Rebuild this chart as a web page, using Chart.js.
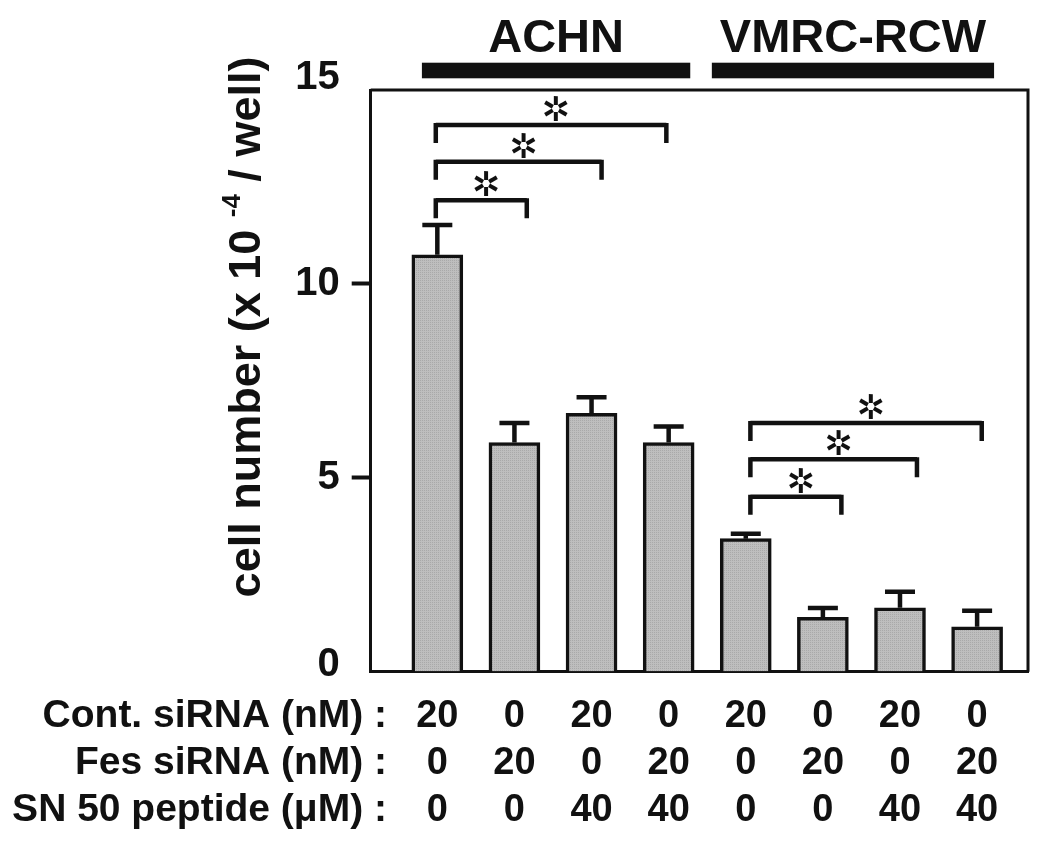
<!DOCTYPE html>
<html><head><meta charset="utf-8">
<script src="https://cdn.jsdelivr.net/npm/chart.js@4.4.0/dist/chart.umd.min.js"></script>
<style>html,body{margin:0;padding:0;background:#fff;overflow:hidden}#wrap{width:1050px;height:859px}</style>
</head><body><div id="wrap"><canvas id="c" width="1050" height="859"></canvas></div>
<script>
// ---- data ----
const categories = ['ACHN 1','ACHN 2','ACHN 3','ACHN 4','VMRC-RCW 1','VMRC-RCW 2','VMRC-RCW 3','VMRC-RCW 4'];
const contSiRNA = ['20','0','20','0','20','0','20','0'];
const fesSiRNA  = ['0','20','0','20','0','20','0','20'];
const sn50      = ['0','0','40','40','0','0','40','40'];
const rowHeaders = ['Cont. siRNA (nM) :', 'Fes siRNA (nM) :', 'SN 50 peptide (\u03BCM) :'];
const cellNumber = [10.75, 5.91, 6.66, 5.91, 3.43, 1.40, 1.65, 1.16];
const errorUpper = [0.77, 0.50, 0.42, 0.41, 0.13, 0.24, 0.41, 0.41];
const yTicks = [0, 5, 10, 15];
const groupNames = ['ACHN', 'VMRC-RCW'];
const groupStart = [-0.20, 3.56];
const groupEnd   = [3.28, 7.22];
const bracketFrom  = [-0.02, -0.02, -0.02, 4.06, 4.06, 4.06];
const bracketTo    = [2.97, 2.13, 1.16, 7.06, 6.22, 5.24];
const bracketLevel = [14.10, 13.15, 12.16, 6.41, 5.48, 4.51];
const bracketMark  = ['\u2732','\u2732','\u2732','\u2732','\u2732','\u2732'];
const yTitleParts = ['cell number (x 10 ', '-4', ' / well)'];

// ---- styles ----
const INK = '#111';
const FONT = '"Liberation Sans", Arial, Helvetica, sans-serif';

function makePattern(ctx){
  const p = document.createElement('canvas'); p.width = 2; p.height = 2;
  const g = p.getContext('2d');
  g.fillStyle = '#bebebe'; g.fillRect(0,0,2,2);
  g.fillStyle = '#a9a9a9'; g.fillRect(0,0,1,1);
  return ctx.createPattern(p, 'repeat');
}

const canvas = document.getElementById('c');
const ctx0 = canvas.getContext('2d');
const pattern = makePattern(ctx0);

const decorPlugin = {
  id: 'decor',
  afterDatasetsDraw(chart){
    const ctx = chart.ctx, xs = chart.scales.x, ys = chart.scales.y, ca = chart.chartArea;
    const meta = chart.getDatasetMeta(0);
    ctx.save();
    // box top & right
    ctx.strokeStyle = INK; ctx.lineWidth = 3;
    ctx.beginPath();
    ctx.moveTo(ca.left, ca.top); ctx.lineTo(ca.right, ca.top); ctx.lineTo(ca.right, ca.bottom);
    ctx.stroke();
    // error bars (upper only)
    ctx.lineWidth = 4.5; ctx.lineCap = 'butt';
    meta.data.forEach((bar, i) => {
      const yTop = ys.getPixelForValue(cellNumber[i]);
      const yErr = ys.getPixelForValue(cellNumber[i] + errorUpper[i]);
      ctx.beginPath();
      ctx.moveTo(bar.x, yTop); ctx.lineTo(bar.x, yErr);
      ctx.moveTo(bar.x - 15, yErr); ctx.lineTo(bar.x + 15, yErr);
      ctx.stroke();
    });
    // significance brackets
    ctx.lineWidth = 4.5; ctx.lineJoin = 'miter';
    for (let k = 0; k < bracketLevel.length; k++){
      const x1 = xs.getPixelForValue(bracketFrom[k]);
      const x2 = xs.getPixelForValue(bracketTo[k]);
      const y = ys.getPixelForValue(bracketLevel[k]);
      ctx.beginPath();
      ctx.moveTo(x1, y + 18); ctx.lineTo(x1, y - 2);
      ctx.moveTo(x1, y); ctx.lineTo(x2, y);
      ctx.moveTo(x2, y - 2); ctx.lineTo(x2, y + 18);
      ctx.stroke();
      ctx.fillStyle = INK;
      ctx.font = 'bold 34px "DejaVu Sans"';
      ctx.textAlign = 'center'; ctx.textBaseline = 'middle';
      ctx.fillText(bracketMark[k], (x1 + x2) / 2 + 5, y - 13);
    }
    // group bars and labels
    for (let g = 0; g < groupNames.length; g++){
      const x1 = xs.getPixelForValue(groupStart[g]);
      const x2 = xs.getPixelForValue(groupEnd[g]);
      ctx.fillStyle = INK;
      ctx.fillRect(x1, ca.top - 27.3, x2 - x1, 15.6);
      ctx.font = 'bold 47px ' + FONT;
      ctx.textAlign = 'center'; ctx.textBaseline = 'alphabetic';
      ctx.fillText(groupNames[g], (x1 + x2) / 2, ca.top - 38);
    }
    // row headers for the condition table
    const xt = xs.options.ticks;
    const lh = 38 * 1.237;
    ctx.font = 'bold 39px ' + FONT;
    ctx.textAlign = 'right'; ctx.textBaseline = 'middle';
    rowHeaders.forEach((h, r) => {
      ctx.fillText(h, 387, xs.top + xt.padding + lh * (r + 0.5));
    });
    // y axis title with superscript
    ctx.translate(244, 327);
    ctx.rotate(-Math.PI / 2);
    const big = 'bold 45px ' + FONT, small = 'bold 26px ' + FONT;
    ctx.font = big; const w0 = ctx.measureText(yTitleParts[0]).width;
    const w2 = ctx.measureText(yTitleParts[2]).width;
    ctx.font = small; const w1 = ctx.measureText(yTitleParts[1]).width;
    let x = -(w0 + w1 + w2) / 2;
    ctx.textAlign = 'left'; ctx.textBaseline = 'alphabetic';
    ctx.font = big; ctx.fillText(yTitleParts[0], x, 16); x += w0;
    ctx.font = small; ctx.fillText(yTitleParts[1], x, -4); x += w1;
    ctx.font = big; ctx.fillText(yTitleParts[2], x, 16);
    ctx.restore();
  }
};

new Chart(canvas, {
  type: 'bar',
  data: {
    labels: categories,
    datasets: [{
      data: cellNumber.map((v, i) => ({ x: i, y: v })),
      backgroundColor: pattern,
      borderColor: INK,
      borderWidth: 3.5,
      borderSkipped: 'start',
      barThickness: 51
    }]
  },
  options: {
    responsive: false,
    animation: false,
    devicePixelRatio: 1,
    layout: { padding: { left: 0, right: 22, top: 90, bottom: 0 } },
    plugins: { legend: { display: false }, tooltip: { enabled: false } },
    scales: {
      x: {
        type: 'linear', min: -0.864, max: 7.66, offset: false,
        afterBuildTicks: s => { s.ticks = categories.map((c, i) => ({ value: i })); },
        afterFit: s => { s.height = 859 - 671.7; },
        grid: { display: false, drawTicks: false },
        border: { display: true, color: INK, width: 3 },
        ticks: {
          autoSkip: false, maxRotation: 0, minRotation: 0, padding: 21, color: INK,
          font: { family: FONT, size: 38, weight: 'bold', lineHeight: 1.237 },
          callback: v => [contSiRNA[v], fesSiRNA[v], sn50[v]]
        }
      },
      y: {
        min: 0, max: 15,
        afterBuildTicks: s => { s.ticks = yTicks.map(v => ({ value: v })); },
        afterFit: s => { s.width = 370.7; },
        grid: {
          drawOnChartArea: false, drawTicks: true, tickLength: 19, tickWidth: 4,
          tickColor: c => (c.tick && c.tick.value > 0 && c.tick.value < 15) ? INK : 'rgba(0,0,0,0)'
        },
        border: { display: true, color: INK, width: 3 },
        ticks: {
          padding: 12, color: INK,
          font: c => ({ family: FONT, size: 40, weight: 'bold',
                        lineHeight: (c.tick && c.tick.value === 15) ? 0.6 : (c.tick && c.tick.value === 0) ? 0.36 : 1.2 }),
          callback: v => (v === 15 || v === 0) ? [String(v), ''] : String(v)
        }
      }
    }
  },
  plugins: [decorPlugin]
});
</script>
</body></html>
